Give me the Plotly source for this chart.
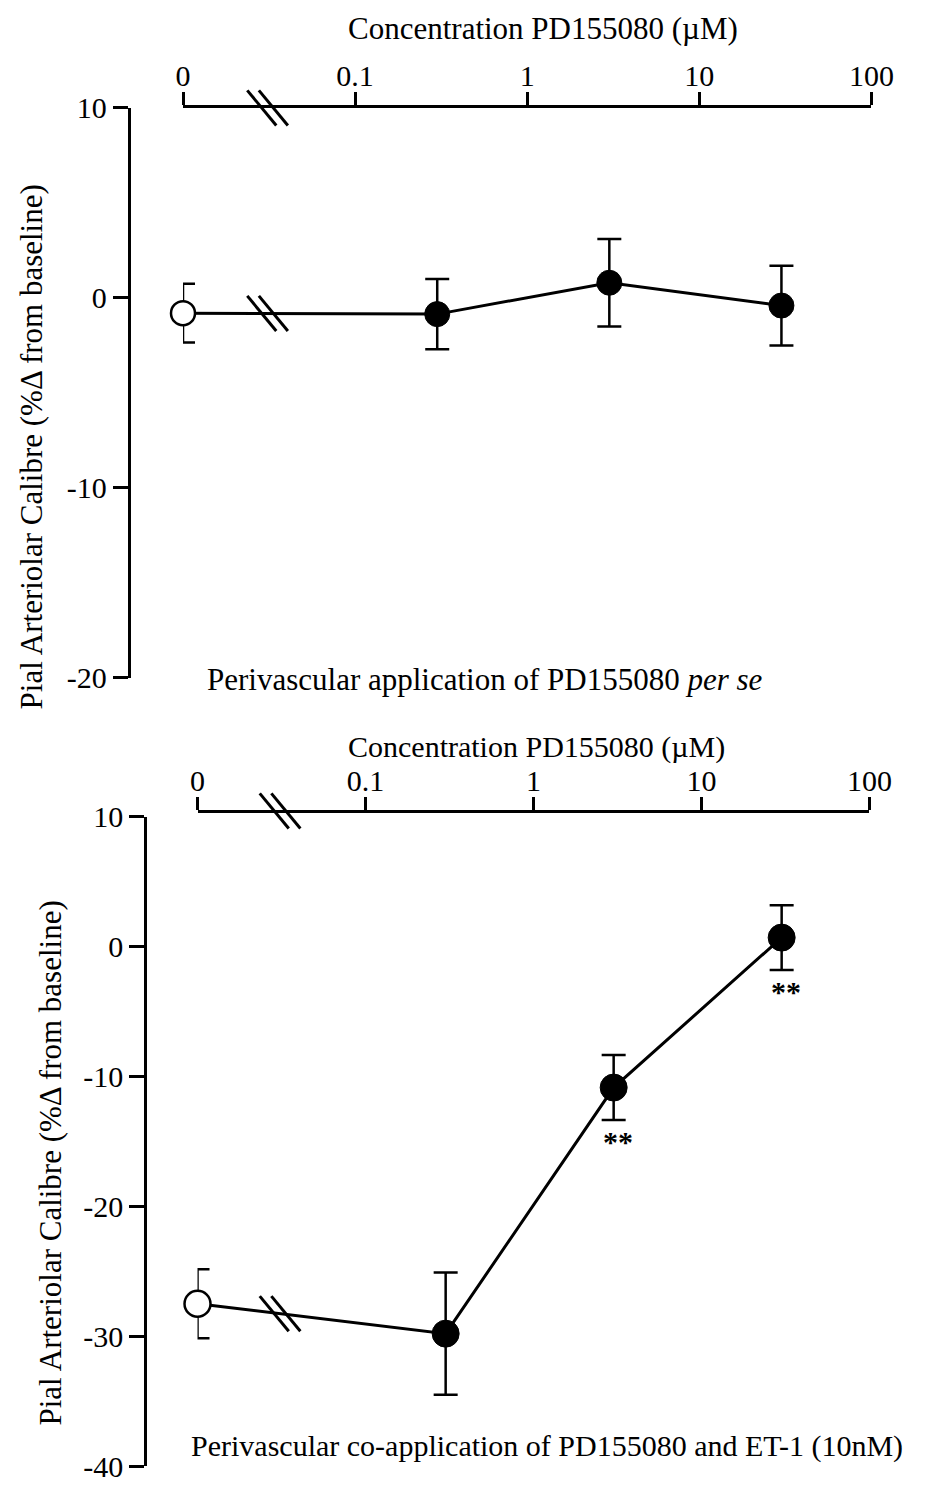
import numpy as np
import plotly.graph_objects as go

# ---- data -------------------------------------------------------------
# Concentrations of PD155080 (µM). The vehicle control ("0") is drawn at
# ZERO_POS on the log axis and the axis is broken at BREAK_POS.
ZERO_POS = 0.01
BREAK_POS = 0.031
conc = [0.3, 3, 30]

# Upper panel: PD155080 per se
ctrl_a_mean, ctrl_a_sem = -0.8, 1.55
pd_a_mean = [-0.85, 0.8, -0.4]
pd_a_sem = [1.85, 2.3, 2.1]

# Lower panel: PD155080 co-applied with ET-1 (10 nM)
ctrl_b_mean, ctrl_b_sem = -27.5, 2.65
pd_b_mean = [-29.8, -10.85, 0.7]
pd_b_sem = [4.7, 2.5, 2.5]
signif_b = ["", "**", "**"]

x_tick_vals = [ZERO_POS, 0.1, 1, 10, 100]
x_tick_text = ["0", "0.1", "1", "10", "100"]
y_ticks_a = [-20, -10, 0, 10]
y_ticks_b = [-40, -30, -20, -10, 0, 10]

x_title = "Concentration PD155080 (µM)"
y_title = "Pial Arteriolar Calibre (%Δ from baseline)"
caption_a = "Perivascular application of PD155080 <i>per se</i>"
caption_b = "Perivascular co-application of PD155080 and ET-1 (10nM)"

# ---- page geometry (pixels from the top-left of the page) -------------
W, H = 936, 1486
FONT = "Liberation Serif, Times New Roman, serif"
LOG_RANGE = [-2, 2]

panel_a = dict(x=[181, 893], y=[93, 676], yrange=[-20, 10], yaxis_at=125,
               xaxis_at=93)
panel_b = dict(x=[196, 891], y=[818, 1482], yrange=[-40, 10], yaxis_at=142,
               xaxis_at=812)


def fx(p):
    return p / W


def fy(p):
    return 1 - p / H


def data_to_px(panel, xv, yv):
    """Map a (concentration, value) pair to page pixels for a panel."""
    x0, x1 = panel["x"]
    yt, yb = panel["y"]
    lo, hi = panel["yrange"]
    px = x0 + (np.log10(xv) - LOG_RANGE[0]) / (LOG_RANGE[1] - LOG_RANGE[0]) * (x1 - x0)
    py = yt + (hi - yv) / (hi - lo) * (yb - yt)
    return px, py


fig = go.Figure()


def add_panel(xa, ya, c_mean, c_sem, means, sems, msize):
    xs = [ZERO_POS] + conc
    ys = [c_mean] + means
    fig.add_trace(go.Scatter(
        x=xs, y=ys, mode="lines", xaxis=xa, yaxis=ya,
        line=dict(color="black", width=3), cliponaxis=False,
        showlegend=False, hoverinfo="skip"))
    err_style = dict(type="data", color="black", thickness=2.5, width=12)
    fig.add_trace(go.Scatter(
        x=[ZERO_POS], y=[c_mean], mode="markers", xaxis=xa, yaxis=ya,
        error_y=dict(array=[c_sem], **err_style),
        marker=dict(symbol="circle", size=msize - 1, color="white",
                    line=dict(color="black", width=2.5)),
        cliponaxis=False, showlegend=False, name="control"))
    fig.add_trace(go.Scatter(
        x=conc, y=means, mode="markers", xaxis=xa, yaxis=ya,
        error_y=dict(array=sems, **err_style),
        marker=dict(symbol="circle", size=msize, color="black",
                    line=dict(color="black", width=1)),
        cliponaxis=False, showlegend=False, name="PD155080"))


add_panel("x", "y", ctrl_a_mean, ctrl_a_sem, pd_a_mean, pd_a_sem, 25)
add_panel("x2", "y2", ctrl_b_mean, ctrl_b_sem, pd_b_mean, pd_b_sem, 27)

# ---- axes -------------------------------------------------------------
tickfont = dict(family=FONT, size=30, color="black")
common_x = dict(type="log", range=LOG_RANGE, side="top",
                tickmode="array", tickvals=x_tick_vals, ticktext=x_tick_text,
                ticks="outside", ticklen=13, tickwidth=2.5, tickcolor="black",
                ticklabelstandoff=-6,
                showline=True, linewidth=3, linecolor="black",
                showgrid=False, zeroline=False, tickfont=tickfont)
common_y = dict(ticks="outside", ticklen=15, tickwidth=2.5, tickcolor="black",
                showline=True, linewidth=3, linecolor="black",
                showgrid=False, zeroline=False, tickfont=tickfont,
                anchor="free", tickmode="array")

fig.update_layout(
    width=W, height=H,
    margin=dict(l=0, r=0, t=0, b=0),
    paper_bgcolor="white", plot_bgcolor="white",
    xaxis=dict(domain=[fx(panel_a["x"][0]), fx(panel_a["x"][1])],
               anchor="y", **common_x),
    yaxis=dict(domain=[fy(panel_a["y"][1]), fy(panel_a["y"][0])],
               range=panel_a["yrange"],
               tickvals=y_ticks_a, ticktext=[str(v) for v in y_ticks_a],
               position=fx(panel_a["yaxis_at"]), **common_y),
    xaxis2=dict(domain=[fx(panel_b["x"][0]), fx(panel_b["x"][1])],
                anchor="free", position=fy(panel_b["xaxis_at"]), **common_x),
    yaxis2=dict(domain=[fy(panel_b["y"][1]), fy(panel_b["y"][0])],
                range=panel_b["yrange"],
                tickvals=y_ticks_b, ticktext=[str(v) for v in y_ticks_b],
                position=fx(panel_b["yaxis_at"]), **common_y),
)


# ---- axis-break marks ("\\") -------------------------------------------
def break_mark(cx, cy):
    for dx in (-6, 6):
        fig.add_shape(type="line", xref="paper", yref="paper",
                      x0=fx(cx + dx - 15), y0=fy(cy - 18),
                      x1=fx(cx + dx + 15), y1=fy(cy + 18),
                      line=dict(color="black", width=3))


def line_at_break(c_mean, first_mean):
    frac = (np.log10(BREAK_POS) - np.log10(ZERO_POS)) / \
           (np.log10(conc[0]) - np.log10(ZERO_POS))
    return c_mean + frac * (first_mean - c_mean)


for panel, c_mean, first in ((panel_a, ctrl_a_mean, pd_a_mean[0]),
                             (panel_b, ctrl_b_mean, pd_b_mean[0])):
    bx, by = data_to_px(panel, BREAK_POS, line_at_break(c_mean, first))
    break_mark(bx, by)                      # on the data line
    break_mark(bx, panel["xaxis_at"])       # on the concentration axis

# ---- text -------------------------------------------------------------
def text_font(size):
    return dict(family=FONT, size=size, color="black")


centre = dict(xref="paper", yref="paper", showarrow=False,
              xanchor="center", yanchor="middle")
ann = [
    dict(text=x_title, x=fx(553), y=fy(12), font=text_font(31), **centre),
    dict(text=x_title, x=fx(547), y=fy(747), font=text_font(30), **centre),
    dict(text=caption_a, x=fx(493), y=fy(678), font=text_font(31), **centre),
    dict(text=caption_b, x=fx(557), y=fy(1461), font=text_font(30), **centre),
    dict(text=y_title, x=fx(24), y=fy(440), textangle=-90,
         font=text_font(31), **centre),
    dict(text=y_title, x=fx(44), y=fy(1172), textangle=-90,
         font=text_font(31), **centre),
]
for c, m, s, lab in zip(conc, pd_b_mean, pd_b_sem, signif_b):
    if lab:
        ann.append(dict(text="<b>" + lab + "</b>", xref="x2", yref="y2",
                        x=np.log10(c), y=m - s, xanchor="center",
                        yanchor="top", yshift=-3, xshift=4, showarrow=False,
                        font=text_font(30)))
fig.update_layout(annotations=ann)

fig.write_html("out.html")
